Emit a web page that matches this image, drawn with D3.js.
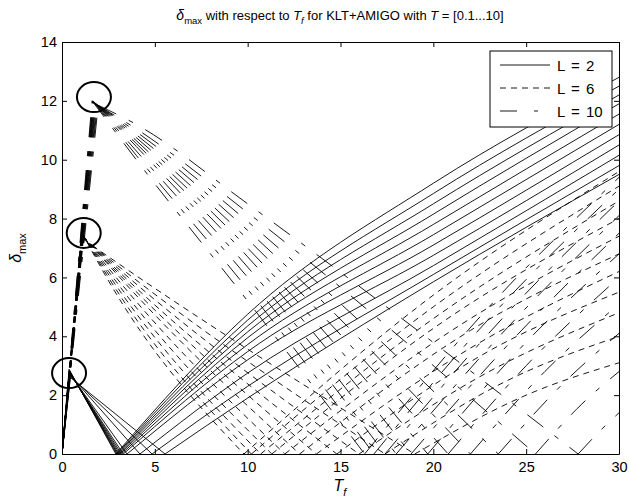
<!DOCTYPE html>
<html>
<head>
<meta charset="utf-8">
<script src="https://cdn.jsdelivr.net/npm/d3@7"></script>
<style>
body { margin: 0; background: #fff; }
text { font-family: "Liberation Sans", Arial, sans-serif; fill: #000; }
</style>
</head>
<body>
<script>
const X_TICKS = [0, 5, 10, 15, 20, 25, 30];
const Y_TICKS = [0, 2, 4, 6, 8, 10, 12, 14];
const LEGEND_LABELS = ['L = 2', 'L = 6', 'L = 10'];

// circled peaks [Tf, delta]
const MARKS = [[1.72, 12.13], [1.17, 7.51], [0.38, 2.75]];

// L = 2, one entry per T value
const L2_PEAK_X = [0.38, 0.39, 0.40, 0.40, 0.41, 0.42, 0.42, 0.43, 0.44, 0.45, 0.45];
const L2_PEAK_Y = [2.88, 2.85, 2.82, 2.80, 2.78, 2.76, 2.74, 2.72, 2.68, 2.64, 2.60];
const L2_ZERO = [2.90, 2.95, 3.00, 3.05, 3.12, 3.20, 3.30, 3.50, 4.20, 4.85, 5.55];
const L2_AT10 = [4.75, 4.55, 4.35, 4.15, 3.95, 3.72, 3.48, 3.20, 2.75, 2.30, 1.90];
const L2_AT20 = [9.20, 8.85, 8.50, 8.15, 7.80, 7.45, 7.10, 6.75, 6.40, 6.10, 5.85];
const L2_AT30 = [12.8, 12.5, 12.2, 11.9, 11.55, 11.2, 10.85, 10.5, 10.15, 9.8, 9.5];

// L = 6
const L6_PEAK_X = [1.05, 1.06, 1.07, 1.08, 1.09, 1.10, 1.11, 1.12, 1.13, 1.14, 1.15];
const L6_PEAK_Y = [7.55, 7.52, 7.50, 7.48, 7.46, 7.44, 7.42, 7.40, 7.37, 7.34, 7.30];
const L6_AT24 = [6.00, 6.10, 6.20, 6.30, 6.40, 6.50, 6.55, 6.60, 6.65, 6.70, 6.75];
const L6_ZERO = [9.8, 10.2, 10.7, 11.3, 12.0, 12.8, 13.7, 14.8, 16.0, 17.4, 19.0];
const L6_MID_X = [20, 20, 20, 21, 21, 22, 22, 23, 23, 24, 25];
const L6_MID_Y = [5.4, 5.0, 4.6, 4.7, 4.2, 4.2, 3.6, 3.5, 2.8, 2.5, 2.0];
const L6_AT30 = [9.6, 9.1, 8.6, 8.0, 7.4, 6.8, 6.2, 5.5, 4.8, 4.0, 3.1];

// L = 10
const L10_PEAK_X = [1.62, 1.65, 1.68, 1.70, 1.73, 1.76, 1.79, 1.82, 1.86, 1.90, 1.95];
const L10_PEAK_Y = [12.0, 12.0, 11.98, 11.97, 11.95, 11.94, 11.92, 11.9, 11.88, 11.86, 11.85];
const L10_AT4 = [10.0, 10.15, 10.3, 10.45, 10.55, 10.65, 10.75, 10.85, 10.95, 11.05, 11.2];
const L10_AT10 = [5.2, 5.6, 6.0, 6.35, 6.7, 7.0, 7.3, 7.6, 7.9, 8.2, 8.5];
const L10_ZERO = [16.3, 16.8, 17.4, 18.0, 18.8, 19.7, 20.8, 22.0, 23.5, 25.5, 27.8];
const L10_MID_X = [23, 23, 24, 24, 24, 25, 25, 26, 27, 28, 29];
const L10_MID_Y = [5.0, 4.6, 4.8, 4.3, 3.7, 3.8, 3.0, 2.8, 2.4, 1.7, 0.8];
const L10_AT30 = [9.4, 9.0, 8.6, 8.1, 7.5, 6.8, 6.0, 5.1, 4.1, 2.8, 1.4];

const DASHES = [null, '6,5', '20,14,5,14'];

let svg = d3.select('body').append('svg')
	.attr('width', 629)
	.attr('height', 504);

let x = d3.scaleLinear().domain([0, 30]).range([62, 619]);
let y = d3.scaleLinear().domain([0, 14]).range([454, 42]);

svg.append('clipPath')
	.attr('id', 'plot-area')
	.append('rect')
	.attr('x', 62).attr('y', 42)
	.attr('width', 557).attr('height', 412);

// each curve: rise to the peak, fall to zero, rise again
let families = [
	L2_ZERO.map((z, i) => [
		[[0, 0], [L2_PEAK_X[i], L2_PEAK_Y[i]]],
		[[L2_PEAK_X[i], L2_PEAK_Y[i]], [z, 0]],
		[[z, 0], [10, L2_AT10[i]], [20, L2_AT20[i]], [30, L2_AT30[i]]]
	]),
	L6_ZERO.map((z, i) => [
		[[0, 0], [L6_PEAK_X[i], L6_PEAK_Y[i]]],
		[[L6_PEAK_X[i], L6_PEAK_Y[i]], [2.4, L6_AT24[i]], [z, 0]],
		[[z, 0], [L6_MID_X[i], L6_MID_Y[i]], [30, L6_AT30[i]]]
	]),
	L10_ZERO.map((z, i) => [
		[[0, 0], [L10_PEAK_X[i], L10_PEAK_Y[i]]],
		[[L10_PEAK_X[i], L10_PEAK_Y[i]], [4, L10_AT4[i]], [10, L10_AT10[i]], [z, 0]],
		[[z, 0], [L10_MID_X[i], L10_MID_Y[i]], [30, L10_AT30[i]]]
	])
];

let line = d3.line()
	.x(p => x(p[0]))
	.y(p => y(p[1]))
	.curve(d3.curveMonotoneX);

let plot = svg.append('g').attr('clip-path', 'url(#plot-area)');

families.forEach((curves, f) => {
	plot.append('g')
		.selectAll('path')
		.data(curves)
		.enter()
		.append('path')
		.attr('d', parts => parts.map(p => line(p)).join(''))
		.attr('fill', 'none')
		.attr('stroke', '#000')
		.attr('stroke-width', 0.9)
		.attr('stroke-dasharray', DASHES[f]);
});

// axes with inward ticks on all four sides
let axisStyle = g => {
	g.attr('font-size', 14.5).attr('font-family', '"Liberation Sans", Arial, sans-serif');
	g.selectAll('path, line').attr('stroke', '#000');
};

svg.append('g')
	.attr('transform', 'translate(0,454)')
	.call(d3.axisBottom(x).tickValues(X_TICKS).tickSize(-5).tickSizeOuter(0).tickPadding(8))
	.call(axisStyle);
svg.append('g')
	.attr('transform', 'translate(0,42)')
	.call(d3.axisTop(x).tickValues(X_TICKS).tickSize(-5).tickSizeOuter(0).tickFormat(''))
	.call(axisStyle);
svg.append('g')
	.attr('transform', 'translate(62,0)')
	.call(d3.axisLeft(y).tickValues(Y_TICKS).tickSize(-5).tickSizeOuter(0).tickPadding(5))
	.call(axisStyle);
svg.append('g')
	.attr('transform', 'translate(619,0)')
	.call(d3.axisRight(y).tickValues(Y_TICKS).tickSize(-5).tickSizeOuter(0).tickFormat(''))
	.call(axisStyle);

svg.selectAll('.tick text').attr('fill', '#000');

// circles round the peaks
svg.selectAll('ellipse')
	.data(MARKS)
	.enter()
	.append('ellipse')
	.attr('cx', m => x(m[0]))
	.attr('cy', m => y(m[1]))
	.attr('rx', 17)
	.attr('ry', 15)
	.attr('fill', 'none')
	.attr('stroke', '#000')
	.attr('stroke-width', 2);

// legend
let legend = svg.append('g');
legend.append('rect')
	.attr('x', 490).attr('y', 51)
	.attr('width', 122).attr('height', 76)
	.attr('fill', '#fff')
	.attr('stroke', '#000')
	.attr('stroke-width', 1);

let rows = legend.selectAll('g.row')
	.data(LEGEND_LABELS)
	.enter()
	.append('g')
	.attr('class', 'row')
	.attr('transform', (d, i) => `translate(0, ${65 + i * 23})`);

rows.append('line')
	.attr('x1', 500).attr('x2', 550)
	.attr('stroke', '#000')
	.attr('stroke-width', 0.9)
	.attr('stroke-dasharray', (d, i) => i == 2 ? '17,17,4,20' : DASHES[i]);

rows.append('text')
	.attr('x', 557)
	.attr('y', 5.5)
	.attr('font-size', 15)
	.attr('word-spacing', 2)
	.text(d => d);

// title
let title = svg.append('text')
	.attr('x', 340)
	.attr('y', 20)
	.attr('text-anchor', 'middle')
	.attr('font-size', 13);
title.append('tspan').attr('font-style', 'italic').attr('font-size', 14).text('δ');
title.append('tspan').attr('font-size', 9.5).attr('dy', 4).text('max');
title.append('tspan').attr('dy', -4).text(' with respect to ');
title.append('tspan').attr('font-style', 'italic').text('T');
title.append('tspan').attr('font-style', 'italic').attr('font-size', 9.5).attr('dy', 4).text('f');
title.append('tspan').attr('dy', -4).text(' for KLT+AMIGO with ');
title.append('tspan').attr('font-style', 'italic').text('T');
title.append('tspan').text(' = [0.1...10]');

// axis labels
let xLabel = svg.append('text')
	.attr('x', 340)
	.attr('y', 491)
	.attr('text-anchor', 'middle')
	.attr('font-size', 16);
xLabel.append('tspan').attr('font-style', 'italic').text('T');
xLabel.append('tspan').attr('font-style', 'italic').attr('font-size', 11).attr('dy', 5).text('f');

let yLabel = svg.append('text')
	.attr('transform', 'translate(21,248) rotate(-90)')
	.attr('text-anchor', 'middle')
	.attr('font-size', 16);
yLabel.append('tspan').attr('font-style', 'italic').text('δ');
yLabel.append('tspan').attr('font-size', 11).attr('dy', 5).text('max');
</script>
</body>
</html>
